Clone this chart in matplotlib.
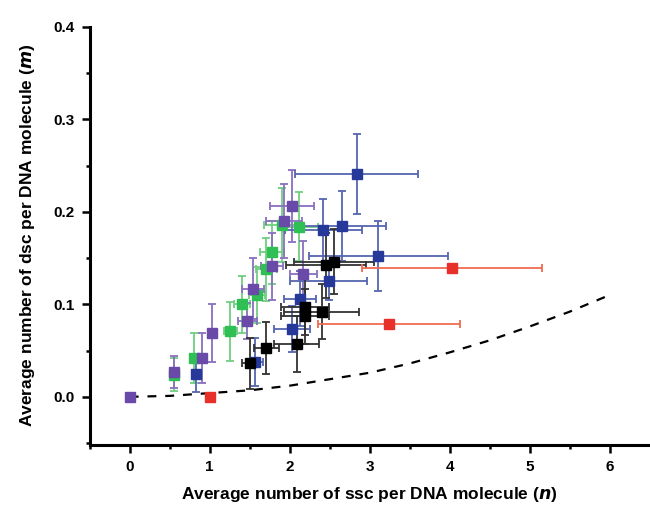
import matplotlib.pyplot as plt
import numpy as np
from matplotlib.ticker import MultipleLocator

# purple series
purple_n = [0.0, 0.56, 0.90, 1.03, 1.47, 1.54, 1.78, 1.93, 2.03, 2.17]
purple_m = [0.000, 0.027, 0.042, 0.069, 0.082, 0.117, 0.141, 0.190, 0.206, 0.133]
purple_nerr = [0.0, 0.05, 0.06, 0.05, 0.12, 0.14, 0.14, 0.22, 0.27, 0.17]
purple_merr = [0.0, 0.017, 0.027, 0.031, 0.019, 0.033, 0.036, 0.040, 0.039, 0.035]

# green series
green_n = [0.55, 0.80, 1.26, 1.41, 1.59, 1.71, 1.78, 1.90, 2.12]
green_m = [0.024, 0.042, 0.071, 0.100, 0.110, 0.138, 0.156, 0.186, 0.184]
green_nerr = [0.04, 0.05, 0.08, 0.10, 0.10, 0.13, 0.15, 0.22, 0.23]
green_merr = [0.018, 0.027, 0.032, 0.031, 0.030, 0.034, 0.034, 0.040, 0.037]

# blue series
blue_n = [0.83, 1.57, 2.03, 2.13, 2.49, 2.42, 2.66, 3.11, 2.84]
blue_m = [0.025, 0.038, 0.073, 0.106, 0.125, 0.180, 0.185, 0.152, 0.241]
blue_nerr = [0.05, 0.10, 0.22, 0.20, 0.48, 0.48, 0.54, 0.87, 0.77]
blue_merr = [0.020, 0.026, 0.025, 0.030, 0.020, 0.034, 0.038, 0.038, 0.043]

# black series
black_n = [1.51, 1.71, 2.09, 2.19, 2.19, 2.40, 2.46, 2.55]
black_m = [0.036, 0.053, 0.057, 0.087, 0.097, 0.092, 0.142, 0.146]
black_nerr = [0.10, 0.16, 0.28, 0.30, 0.30, 0.47, 0.50, 0.50]
black_merr = [0.028, 0.028, 0.030, 0.030, 0.030, 0.030, 0.035, 0.035]

# red series
red_n = [1.00, 4.03, 3.24]
red_m = [0.000, 0.139, 0.079]
red_nerr = [0.0, 1.12, 0.89]
red_merr = [0.0, 0.003, 0.0]

# dashed reference curve
curve_n = [0, 0.5, 1, 1.5, 2, 2.5, 3, 3.5, 4, 4.5, 5, 5.5, 6]
curve_m = [0.0, 0.001, 0.004, 0.007, 0.012, 0.019, 0.026, 0.036, 0.048, 0.061, 0.076, 0.092, 0.110]

plt.rcParams['font.family'] = ['Liberation Sans', 'DejaVu Sans']
plt.rcParams['font.weight'] = 'bold'

fig = plt.figure(figsize=(6.5, 5.05), dpi=100)
ax = fig.add_axes([0.138, 0.119, 0.859, 0.828])

ax.plot(curve_n, curve_m, ls=(0, (4, 4)), color='black', lw=1.6, zorder=1)

series = [
    (green_n, green_m, green_nerr, green_merr, '#2fbf55', '#6fcf80'),
    (purple_n, purple_m, purple_nerr, purple_merr, '#6a4aa8', '#8a70c0'),
    (blue_n, blue_m, blue_nerr, blue_merr, '#26399a', '#5566b0'),
    (black_n, black_m, black_nerr, black_merr, '#000000', '#333333'),
    (red_n, red_m, red_nerr, red_merr, '#e8302a', '#f06a50'),
]
for n, m, nerr, merr, c, ec in series:
    ax.errorbar(n, m, xerr=nerr, yerr=merr, fmt='s', ms=7.5, color=c, mec=c,
                ecolor=ec, elinewidth=1.3, capsize=3, capthick=1.3, zorder=3)

ax.set_xlim(-0.5, 6.48)
ax.set_ylim(-0.052, 0.4)
ax.xaxis.set_major_locator(MultipleLocator(1))
ax.xaxis.set_minor_locator(MultipleLocator(0.5))
ax.yaxis.set_major_locator(MultipleLocator(0.1))
ax.yaxis.set_minor_locator(MultipleLocator(0.05))
ax.xaxis.set_major_formatter(plt.FuncFormatter(lambda v, p: '%d' % v if v >= 0 else ''))
ax.yaxis.set_major_formatter(plt.FuncFormatter(lambda v, p: '%.1f' % v if v > -0.01 else ''))

for s in ['top', 'right']:
    ax.spines[s].set_visible(False)
for s in ['left', 'bottom']:
    ax.spines[s].set_linewidth(2.2)

ax.tick_params(which='major', length=6, width=1.8, labelsize=11, pad=5)
ax.tick_params(which='minor', length=3, width=1.8)

ax.set_xlabel('Average number of ssc per DNA molecule ($\\mathbfit{n}$)', fontsize=12.5, fontweight='bold', labelpad=8)
ax.set_ylabel('Average number of dsc per DNA molecule ($\\mathbfit{m}$)', fontsize=12.5, fontweight='bold', labelpad=12)

fig.savefig('out.png', dpi=100)
